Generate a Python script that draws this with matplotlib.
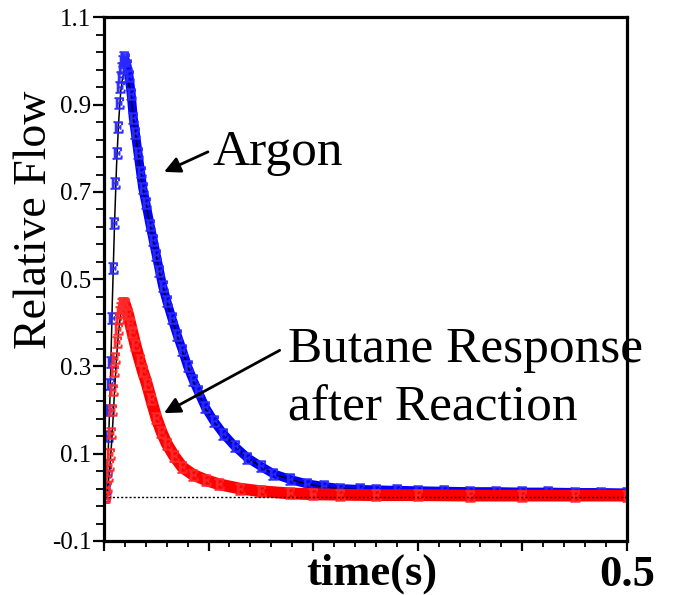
import matplotlib
matplotlib.use("Agg")
import matplotlib.pyplot as plt
import numpy as np

plt.rcParams['font.family'] = ['Liberation Serif', 'DejaVu Serif']
plt.rcParams['mathtext.fontset'] = 'custom'
plt.rcParams['mathtext.rm'] = 'Liberation Serif'

# argon pulse response (time in s, relative flow)
argon_t = [0.000, 0.001, 0.002, 0.003, 0.004, 0.005, 0.006, 0.007, 0.008, 0.009,
           0.010, 0.011, 0.012, 0.013, 0.014, 0.015, 0.016, 0.017, 0.018, 0.019,
           0.020, 0.022, 0.024, 0.026, 0.028, 0.030, 0.0325, 0.035, 0.037, 0.040,
           0.044, 0.047, 0.050, 0.053, 0.056, 0.060, 0.065, 0.070, 0.075, 0.080,
           0.085, 0.090, 0.097, 0.105, 0.114, 0.125, 0.137, 0.150, 0.162, 0.178,
           0.194, 0.210, 0.226, 0.245, 0.260, 0.280, 0.300, 0.325, 0.350, 0.375,
           0.400, 0.425, 0.450, 0.475, 0.500]
argon_y = [0.000, 0.004, 0.020, 0.060, 0.140, 0.200, 0.260, 0.310, 0.410, 0.525,
           0.630, 0.720, 0.790, 0.850, 0.905, 0.940, 0.964, 0.985, 1.000, 1.010,
           1.005, 0.990, 0.965, 0.925, 0.870, 0.835, 0.790, 0.745, 0.710, 0.675,
           0.625, 0.590, 0.555, 0.520, 0.485, 0.450, 0.410, 0.372, 0.337, 0.300,
           0.270, 0.243, 0.206, 0.175, 0.146, 0.117, 0.091, 0.071, 0.054, 0.041,
           0.031, 0.025, 0.020, 0.018, 0.017, 0.016, 0.015, 0.014, 0.013, 0.013,
           0.012, 0.012, 0.011, 0.011, 0.010]

# fitted argon curve
argon_fit_t = [0.000, 0.002, 0.004, 0.006, 0.008, 0.010, 0.012, 0.014, 0.016, 0.018,
               0.020, 0.022, 0.025, 0.028, 0.0325, 0.037, 0.044, 0.050, 0.056, 0.065,
               0.075, 0.085, 0.097, 0.114, 0.137, 0.162, 0.194, 0.226, 0.30, 0.40, 0.50]
argon_fit_y = [0.000, 0.030, 0.100, 0.250, 0.450, 0.620, 0.760, 0.860, 0.930, 0.965,
               0.975, 0.965, 0.935, 0.870, 0.790, 0.710, 0.625, 0.553, 0.483, 0.408,
               0.335, 0.268, 0.204, 0.145, 0.090, 0.053, 0.030, 0.019, 0.013, 0.011, 0.010]

# butane response after reaction
butane_t = [0.000, 0.001, 0.002, 0.003, 0.004, 0.005, 0.006, 0.007, 0.008, 0.009,
            0.010, 0.011, 0.012, 0.013, 0.014, 0.015, 0.016, 0.017, 0.018, 0.019,
            0.020, 0.023, 0.025, 0.027, 0.030, 0.034, 0.037, 0.041, 0.045, 0.050,
            0.055, 0.060, 0.067, 0.075, 0.085, 0.098, 0.110, 0.130, 0.150, 0.178,
            0.200, 0.226, 0.260, 0.300, 0.350, 0.400, 0.450, 0.500]
butane_y = [0.000, 0.000, 0.010, 0.023, 0.050, 0.075, 0.100, 0.148, 0.200, 0.246,
            0.290, 0.320, 0.355, 0.387, 0.410, 0.425, 0.435, 0.443, 0.445, 0.445,
            0.443, 0.420, 0.400, 0.380, 0.350, 0.315, 0.290, 0.260, 0.225, 0.183,
            0.150, 0.123, 0.095, 0.069, 0.052, 0.039, 0.030, 0.020, 0.014, 0.009,
            0.007, 0.006, 0.005, 0.005, 0.004, 0.004, 0.004, 0.004]

butane_fit_t = [0.000, 0.002, 0.004, 0.006, 0.008, 0.010, 0.012, 0.014, 0.016, 0.018,
                0.020, 0.023, 0.027, 0.030, 0.034, 0.041, 0.050, 0.060, 0.075, 0.098,
                0.130, 0.178, 0.226, 0.30, 0.50]
butane_fit_y = [0.000, 0.000, 0.030, 0.080, 0.150, 0.240, 0.320, 0.380, 0.420, 0.435,
                0.435, 0.420, 0.380, 0.350, 0.315, 0.258, 0.182, 0.122, 0.068, 0.038,
                0.019, 0.008, 0.005, 0.003, 0.002]

y_ticks = [-0.1, 0.1, 0.3, 0.5, 0.7, 0.9, 1.1]
x_ticks = [0.0, 0.1, 0.2, 0.3, 0.4, 0.5]
x_ticklabels = ['', '', '', '', '', '0.5']

fig = plt.figure(figsize=(6.73, 5.95), dpi=100)
ax = fig.add_axes([0.1545, 0.0908, 0.777, 0.8798])

E = r'$\mathrm{E}$'

at = np.array(argon_t); ay = np.array(argon_y)
bt = np.array(butane_t); by = np.array(butane_y)

# argon: separate markers on the rise, dense band once past the peak
ax.plot(at[at >= 0.019], ay[at >= 0.019], color='#0000ff', lw=6.5,
        solid_capstyle='butt', solid_joinstyle='round', zorder=2)
ax.plot(argon_fit_t, argon_fit_y, color='k', lw=1.1, zorder=2.05)
ax.plot(at, ay, ls='none', marker=E, ms=8, color='#2a2aff', alpha=0.9, zorder=2.1)

# butane (fit drawn under the band so the tail stays red)
ax.plot(butane_fit_t, butane_fit_y, color='k', lw=1.1, zorder=2.15)
ax.plot(bt[bt >= 0.018], by[bt >= 0.018], color='#ff0000', lw=8.5,
        solid_capstyle='butt', solid_joinstyle='round', zorder=2.2)
ax.plot(bt, by, ls='none', marker=E, ms=8, color='#ff2a2a', alpha=0.9, zorder=2.3)

# baseline
ax.axhline(0, color='k', ls=(0, (1.5, 1.5)), lw=1.0, zorder=2.4)

ax.set_xlim(0, 0.5)
ax.set_ylim(-0.1, 1.1)
ax.set_yticks(y_ticks)
ax.set_yticklabels(['%g' % v for v in y_ticks])
ax.set_yticks(np.arange(-0.1, 1.1001, 0.04), minor=True)
ax.set_xticks(x_ticks)
ax.set_xticklabels(x_ticklabels, fontsize=32, fontweight='bold')
ax.set_xticks(np.arange(0, 0.5001, 0.02), minor=True)

ax.tick_params(axis='y', which='major', direction='out', length=8, width=1.6, labelsize=18, pad=1)
ax.tick_params(axis='y', which='minor', direction='out', length=6, width=1.3)
ax.tick_params(axis='x', which='major', direction='out', length=7, width=1.6, pad=3)
ax.tick_params(axis='x', which='minor', direction='out', length=4, width=1.3)
for s in ax.spines.values():
    s.set_linewidth(2.3)
    s.set_zorder(5)

fig.text(35 / 673, 1 - 220 / 595, 'Relative Flow', rotation=90, fontsize=33,
         ha='center', va='center')
fig.text(372 / 673, 1 - 585 / 595, 'time(s)', fontsize=32, fontweight='bold',
         ha='center', va='baseline')

# labels and arrows
ax.text(0.1033, 0.762, 'Argon', fontsize=37, va='baseline', zorder=1)
ax.text(0.176, 0.310, 'Butane Response', fontsize=37, va='baseline', zorder=1)
ax.text(0.176, 0.177, 'after Reaction', fontsize=37, va='baseline', zorder=1)
ax.annotate('', xy=(0.0574, 0.746), xytext=(0.0994, 0.792),
            arrowprops=dict(arrowstyle='-|>', color='k', lw=2, mutation_scale=24,
                            shrinkA=0, shrinkB=0), zorder=4)
ax.annotate('', xy=(0.0574, 0.193), xytext=(0.168, 0.337),
            arrowprops=dict(arrowstyle='-|>', color='k', lw=2, mutation_scale=24,
                            shrinkA=0, shrinkB=0), zorder=4)

plt.savefig('out.png', dpi=100)
